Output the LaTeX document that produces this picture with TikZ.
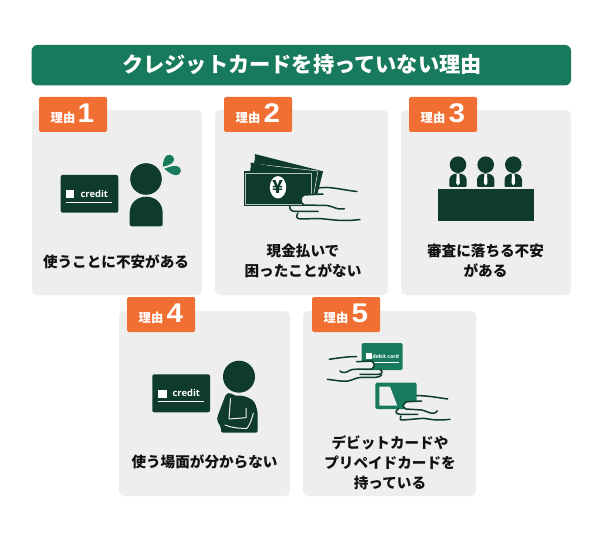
\documentclass[tikz,border=0pt]{standalone}
\usepackage{fontspec}
\newfontfamily\jp{Noto Sans CJK JP}
\newfontfamily\numf{Liberation Sans}
\newfontfamily\lat{Open Sans}
\definecolor{dk}{HTML}{0E3B2A}
\definecolor{gr}{HTML}{177A5C}
\definecolor{org}{HTML}{F26F33}
\definecolor{cardbg}{HTML}{EEEEEE}
\definecolor{ink}{HTML}{111111}
\newcommand{\widedigit}[1]{\scalebox{1.1}[1]{#1}}
\tikzset{
 panel/.style={fill=cardbg,rounded corners=5pt,draw=none},
 tagbox/.style={fill=org,rounded corners=1.5pt,draw=none},
 lab/.style={font=\jp\bfseries\fontsize{14.6}{20}\selectfont,text=ink,align=center,inner sep=0pt},
 tagtxt/.style={font=\jp\bfseries\fontsize{12.3}{14}\selectfont,text=white,inner sep=0pt},
 tagnum/.style={font=\numf\bfseries\fontsize{27}{27}\selectfont,text=white,inner sep=0pt},
 cred/.style={font=\lat\bfseries\fontsize{9.4}{10}\selectfont,text=white,inner sep=0pt},
 hand/.style={draw=dk,line width=1.5pt,line cap=round,line join=round},
 wl/.style={draw=cardbg,line width=1pt,line cap=round,line join=round},
}
\begin{document}
\begin{tikzpicture}[x=1pt,y=-1pt]
\useasboundingbox (0,0) rectangle (600,540);
\fill[white] (0,0) rectangle (600,540);
% title
\fill[gr,rounded corners=6pt] (31.5,45) rectangle (571,85.5);
\node[font=\jp\bfseries\fontsize{21.2}{24}\selectfont,text=white,inner sep=0pt] (title) at (302,65) {クレジットカードを持っていない理由};
% panels
\fill[panel] (32,110) rectangle (202,295);
\fill[panel] (215,110) rectangle (388,295);
\fill[panel] (401,110) rectangle (571,295);
\fill[panel] (119,311) rectangle (290,496);
\fill[panel] (303,311) rectangle (476,496);
% tags
\fill[tagbox] (39,97) rectangle (107,132);
\fill[tagbox] (224,97) rectangle (292,132);
\fill[tagbox] (409,97) rectangle (477,132);
\fill[tagbox] (127,297) rectangle (195,332);
\fill[tagbox] (312,297) rectangle (380,332);
\node[tagtxt] (t1) at (63,118) {理由}; \node[tagnum] (n1) at (86,113.5) {\widedigit{1}};
\node[tagtxt] (t2) at (248,118) {理由}; \node[tagnum] (n2) at (272,113.5) {\widedigit{2}};
\node[tagtxt] (t3) at (433,118) {理由}; \node[tagnum] (n3) at (457,113.5) {\widedigit{3}};
\node[tagtxt] (t4) at (151,318) {理由}; \node[tagnum] (n4) at (175,313.5) {\widedigit{4}};
\node[tagtxt] (t5) at (336,318) {理由}; \node[tagnum] (n5) at (360,313.5) {\widedigit{5}};
% labels
\node[lab] (l1) at (116,261.5) {使うことに不安がある};
\node[lab] (l2) at (303,261) {現金払いで\\困ったことがない};
\node[lab] (l3) at (485.5,261) {審査に落ちる不安\\がある};
\node[lab] (l4) at (204.5,462) {使う場面が分からない};
\node[lab] (l5) at (390,462.5) {デビットカードや\\プリペイドカードを\\持っている};
% icon 1
\fill[dk,rounded corners=2pt] (60.7,175) rectangle (118.3,212.7);
\fill[white] (66,190) rectangle (74.3,198);
\node[cred] (c1) at (94.3,193.5) {credit};
\draw[white,line width=.9pt] (66,202.3) -- (112,202.3);
\fill[dk] (146,179) circle (15.8);
\fill[dk] (132,226.3) .. controls (130.5,226.3) and (129.7,225.5) .. (129.7,224) -- (129.7,213) .. controls (129.7,203) and (137,196.7) .. (146.2,196.7) .. controls (155.4,196.7) and (162.7,203) .. (162.7,213) -- (162.7,224) .. controls (162.7,225.5) and (161.9,226.3) .. (160.4,226.3) -- cycle;
\fill[gr] (162.7,166.7) .. controls (163,161) and (164.5,156.5) .. (167.5,155.2) .. controls (171,154) and (174.2,156.5) .. (174,159.8) .. controls (173.7,163.5) and (168,165.8) .. (162.7,166.7) -- cycle;
\fill[gr] (164.3,168.7) .. controls (167.5,167.5) and (172,165.8) .. (175.5,166) .. controls (179,166.3) and (181.3,168.5) .. (181,171) .. controls (180.7,174) and (178,175.5) .. (175.5,175.2) .. controls (171.5,174.8) and (167.5,171.5) .. (164.3,168.7) -- cycle;
% icon 2
\filldraw[fill=dk,draw=cardbg,line width=.5pt] (255,155) -- (322,172) -- (314,204) -- (250,190) -- cycle;
\draw[dk,line width=1.8pt] (255,155) -- (322,172) -- (314,204);
\filldraw[fill=dk,draw=cardbg,line width=.5pt] (250.7,163.5) -- (318,171) -- (312,204) -- (248,190) -- cycle;
\draw[dk,line width=1.8pt] (250.7,163.5) -- (316,175);
\fill[dk] (243.7,171.5) rectangle (312.5,206);
\draw[cardbg!75!dk,line width=.5pt] (245,172.9) rectangle (311.2,204.6);
\fill[white] (278,187.3) ellipse (8.2 and 11.2);
\node[font=\jp\bfseries\fontsize{18}{18}\selectfont,text=dk,inner sep=0pt] (yen) at (278,187) {¥};
\fill[cardbg] (324,193.5) -- (304,195) .. controls (300,197) and (300,203) .. (304,205) -- (324,206) -- cycle;
\draw[hand] (318,188) .. controls (330,186) and (342,190) .. (357,191.5);
\draw[hand] (323,194) -- (304,195) .. controls (300,197) and (300,203) .. (304,205) -- (327,205.5) .. controls (335,207) and (336,209.5) .. (343,209) .. controls (345,208.8) and (344,208.5) .. (344,208.5);
\draw[hand] (318,211.5) -- (296,211.5) .. controls (291,211.5) and (289,209) .. (290,206);
\draw[hand] (298,213) .. controls (296,216) and (296,219) .. (301,219) -- (318,218.5) .. controls (330,219) and (340,222) .. (360,219.5);
% icon 3
\foreach \cx/\nm in {458/a,485.7/b,513.3/c}{
 \fill[dk] (\cx,164.7) circle (8.3);
 \fill[dk,rounded corners=1pt] (\cx-8.7,187) -- (\cx-8.7,181) .. controls (\cx-8.7,176) and (\cx-5,173.5) .. (\cx,173.5) .. controls (\cx+5,173.5) and (\cx+8.7,176) .. (\cx+8.7,181) -- (\cx+8.7,187) -- cycle;
 \fill[white] (\cx-1.3,174) -- (\cx+1.3,174) -- (\cx+1.8,183) -- (\cx,185.5) -- (\cx-1.8,183) -- cycle;
}
\fill[dk] (437.7,189) rectangle (533.7,220.7);
% icon 4
\fill[dk,rounded corners=2pt] (152.3,374.3) rectangle (210,412.3);
\fill[white] (158.3,389.7) rectangle (167,397.7);
\node[cred] (c4) at (186.3,393.3) {credit};
\draw[white,line width=.9pt] (158.3,401.7) -- (204.3,401.7);
\fill[dk] (239,376.7) circle (16);
\fill[dk,rounded corners=2pt] (226,394) -- (230,392.5) -- (235,396) .. controls (243,395) and (253,398) .. (256,406) -- (257.7,412) -- (257.7,432.7) -- (221,432.7) -- (221,427) -- (217,421) -- (217.3,417) -- cycle;
\draw[wl] (230.5,398.5) -- (229,419) -- (246,417.7) -- (246,408.5);
\draw[wl] (225,425) .. controls (232,428) and (240,428.5) .. (247,428.3) .. controls (250,425) and (252,418) .. (253.3,413.3);
% icon 5
\fill[gr,rounded corners=1.5pt] (361.7,343) rectangle (402.7,370);
\fill[white] (365.7,353.3) rectangle (371.7,359);
\node[font=\lat\bfseries\fontsize{5.2}{7}\selectfont,text=white,inner sep=0pt] (c5) at (385.7,356.7) {debit card};
\draw[white,line width=.7pt] (365.7,362.7) -- (398.7,362.7);
\fill[cardbg] (352,361.7) -- (371.7,361) .. controls (375,363) and (375,367) .. (371.7,369) -- (352,369.5) -- cycle;
\draw[hand] (329.3,359.3) .. controls (338,358) and (348,356.5) .. (356.7,356.5);
\draw[hand] (356.7,361.7) -- (371.7,361) .. controls (375,363) and (375,367) .. (371.7,369) -- (353,369.3) .. controls (349,370) and (347,373) .. (343,372.5) .. controls (341.5,372.3) and (340.5,371.5) .. (340,371);
\draw[hand] (360,374.3) -- (379,374.3) .. controls (382,374) and (383.5,371.5) .. (380,369.3);
\draw[hand] (327.3,379.3) .. controls (335,380) and (342,382) .. (348,381) .. controls (353,380) and (356,377.5) .. (362,377.3) -- (376,377.3) .. controls (379,377) and (381,376) .. (381.7,375);
\fill[gr,rounded corners=1.5pt] (375.3,382.7) rectangle (416.7,409);
\fill[cardbg] (379.3,386.7) -- (390,386.7) -- (397.3,405.7) -- (379.3,405.7) -- cycle;
\fill[cardbg] (424,400.8) -- (407.3,401.7) .. controls (403,403) and (401.5,407) .. (406,409.5) -- (424,410.5) -- cycle;
\draw[hand] (416.7,395.7) .. controls (427,395.5) and (437,397.5) .. (447.7,399);
\draw[hand] (421.7,401) -- (407.3,401.7) .. controls (403,403) and (401.5,407) .. (406,409) -- (421.7,410) .. controls (426,411) and (430,413.5) .. (433.5,413.3) .. controls (435,413.2) and (436.5,412) .. (437.3,411);
\draw[hand] (417.7,414.3) -- (400,414.3) .. controls (395.5,414) and (394.5,411) .. (398.3,409);
\draw[hand] (401,416) .. controls (399.5,419) and (400,420.3) .. (403,420) -- (423.3,418.3) .. controls (430,419) and (435,421) .. (450,419.3);
\end{tikzpicture}
\end{document}
